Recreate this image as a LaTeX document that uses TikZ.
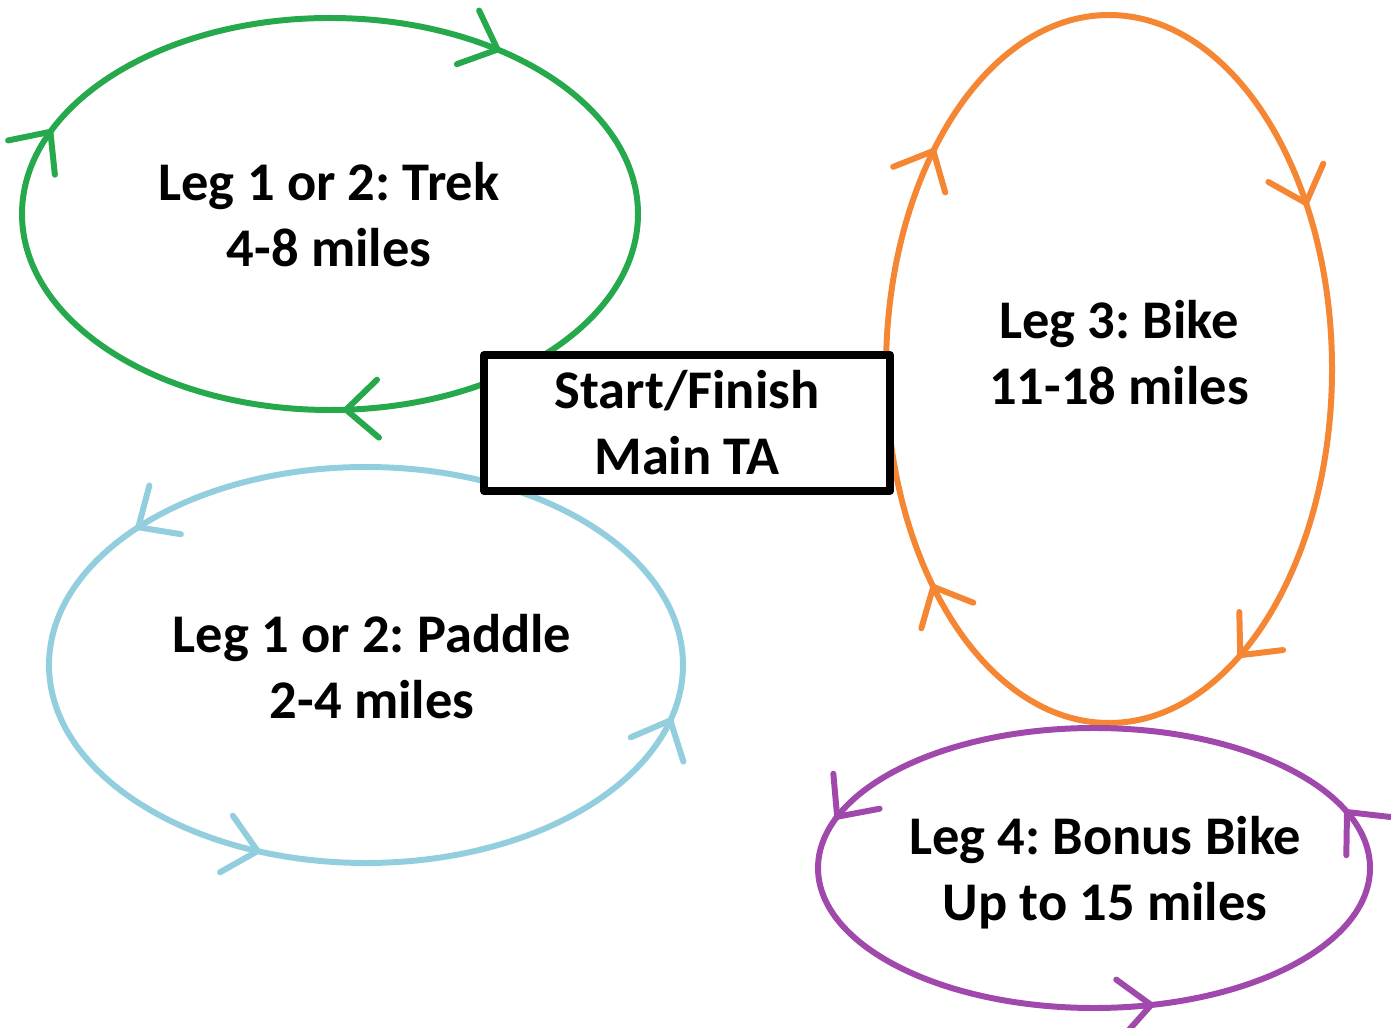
\documentclass[tikz,border=0pt]{standalone}
\usepackage{fontspec}
\setmainfont{Carlito}
\usetikzlibrary{arrows.meta,positioning}

\definecolor{trekgreen}{RGB}{38,168,76}
\definecolor{paddleblue}{RGB}{146,206,222}
\definecolor{bikeorange}{RGB}{245,134,52}
\definecolor{bonuspurple}{RGB}{160,72,172}

\begin{document}
\frenchspacing
\begin{tikzpicture}[x=0.1mm, y=-0.1mm, line cap=round, line join=round,
  legloop/.style={line width=1.7pt},
  barb/.style={-{Straight Barb[length=3.2mm,width=5.8mm,round]}},
  legtext/.style={font=\bfseries\fontsize{15.5}{18.8}\selectfont, align=center},
  tabox/.style={draw, fill=white, line width=2.2pt, minimum width=4.06cm,
    minimum height=1.36cm, inner sep=0pt}]

  \useasboundingbox (0,0) rectangle (1391,1028);

  % ---- Leg 1 or 2: Trek (clockwise) ----
  \def\cx{330} \def\cy{214} \def\rx{308} \def\ry{196}
  \draw[legloop, trekgreen] (\cx,\cy) ellipse [x radius=\rx, y radius=\ry];
  \foreach \t in {57,155,273}
    \draw[legloop, trekgreen, barb]
      ({\cx+\rx*cos(\t)}, {\cy-\ry*sin(\t)}) -- ++({0.01*\rx*sin(\t)}, {0.01*\ry*cos(\t)});

  % ---- Leg 1 or 2: Paddle (counter-clockwise) ----
  \def\cx{366} \def\cy{665} \def\rx{317} \def\ry{198}
  \draw[legloop, paddleblue] (\cx,\cy) ellipse [x radius=\rx, y radius=\ry];
  \foreach \t in {136,250,344}
    \draw[legloop, paddleblue, barb]
      ({\cx+\rx*cos(\t)}, {\cy-\ry*sin(\t)}) -- ++({-0.01*\rx*sin(\t)}, {-0.01*\ry*cos(\t)});

  % ---- Leg 3: Bike (clockwise) ----
  \def\cx{1109} \def\cy{369} \def\rx{223} \def\ry{354}
  \draw[legloop, bikeorange] (\cx,\cy) ellipse [x radius=\rx, y radius=\ry];
  \foreach \t in {28,142,218,306}
    \draw[legloop, bikeorange, barb]
      ({\cx+\rx*cos(\t)}, {\cy-\ry*sin(\t)}) -- ++({0.01*\rx*sin(\t)}, {0.01*\ry*cos(\t)});

  % ---- Leg 4: Bonus Bike (counter-clockwise) ----
  \def\cx{1094} \def\cy{868} \def\rx{276} \def\ry{140}
  \draw[legloop, bonuspurple] (\cx,\cy) ellipse [x radius=\rx, y radius=\ry];
  \foreach \t in {24,159,282}
    \draw[legloop, bonuspurple, barb]
      ({\cx+\rx*cos(\t)}, {\cy-\ry*sin(\t)}) -- ++({-0.01*\rx*sin(\t)}, {-0.01*\ry*cos(\t)});

  % ---- Labels ----
  \node[legtext] (trek)   at (329,215)  {Leg 1 or 2: Trek\\4-8 miles};
  \node[legtext] (paddle) at (372,667)  {Leg 1 or 2: Paddle\\2-4 miles};
  \node[legtext] (bike)   at (1119,353) {Leg 3: Bike\\11-18 miles};
  \node[legtext] (bonus)  at (1105,873) {Leg 4: Bonus Bike\\Up to 15 miles};

  % ---- Transition area ----
  \node[tabox, legtext] (ta) at (687,423) {Start/Finish\\Main TA};

\end{tikzpicture}
\end{document}
